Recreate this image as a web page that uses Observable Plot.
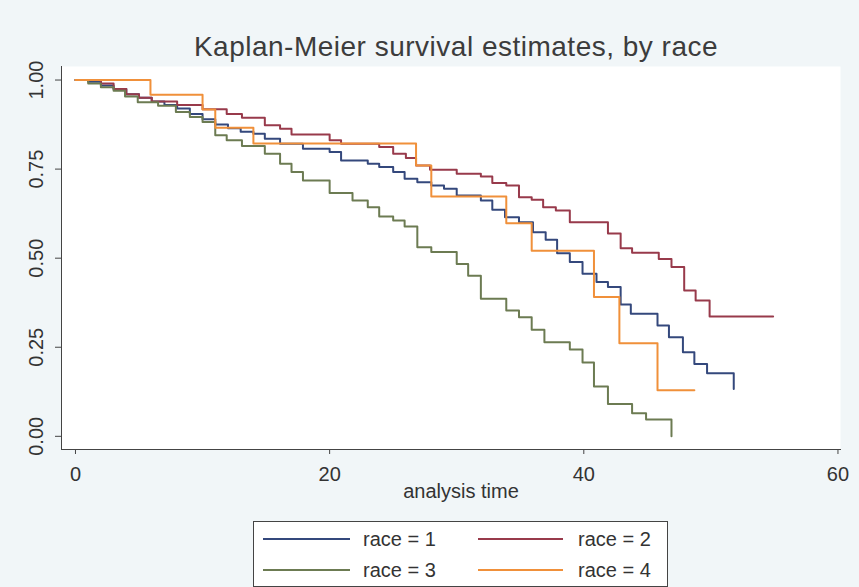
<!DOCTYPE html>
<html>
<head>
<meta charset="utf-8">
<script src="https://cdn.jsdelivr.net/npm/d3@7"></script>
<script src="https://cdn.jsdelivr.net/npm/@observablehq/plot@0.6"></script>
<style>
  html, body { margin: 0; padding: 0; }
  body { width: 859px; height: 587px; background: #f1f6f8; position: relative; overflow: hidden;
         font-family: "Liberation Sans", Arial, sans-serif; }
  #title { position: absolute; left: 456px; top: 33px; transform: translateX(-50%); white-space: nowrap;
           font-size: 28px; line-height: 28px; letter-spacing: 0.5px; color: #3c3c3c; z-index: 2; }
  #chart { position: absolute; left: 0; top: 36px; z-index: 1; }
  #chart svg { overflow: visible; }
  #legend { position: absolute; left: 253px; top: 521px; width: 415px; height: 66px; box-sizing: border-box;
            border: 1px solid #444; background: #ffffff; }
  .sw { position: absolute; height: 0; border-top: 2px solid; }
  .lb { position: absolute; font-size: 20px; line-height: 20px; color: #333; white-space: nowrap; }
</style>
</head>
<body>
<div id="title">Kaplan-Meier survival estimates, by race</div>
<div id="chart"></div>
<div id="legend"></div>
<script>
// ---- data ----
const races = ["1", "2", "3", "4"];
const raceLabels = ["race = 1", "race = 2", "race = 3", "race = 4"];

const time1 = [0,1,2,3,4,5,6,7,8,9,10,11,12,13,14,14.9,16.1,17.9,20.0,20.9,23.0,23.9,25.0,25.9,26.9,28.0,29.0,30.0,31.9,32.8,33.8,34.9,36.0,37.0,37.9,38.9,39.9,41.0,41.9,42.9,43.7,45.8,46.7,47.8,48.7,49.7,51.8];
const surv1 = [1,0.995,0.985,0.975,0.96,0.95,0.94,0.93,0.92,0.905,0.89,0.875,0.865,0.855,0.849,0.835,0.821,0.807,0.798,0.774,0.765,0.756,0.742,0.723,0.713,0.704,0.695,0.676,0.662,0.636,0.615,0.601,0.573,0.552,0.514,0.489,0.456,0.433,0.419,0.370,0.344,0.311,0.278,0.236,0.203,0.177,0.133];

const time2 = [0,2.0,3.0,4.0,5.0,6.0,8.0,10.0,11.9,13.1,14.9,16.1,17.0,20.0,20.9,23.9,25.0,26.0,26.8,27.9,30.0,31.9,32.8,33.9,34.9,35.9,36.8,37.8,38.9,41.9,42.9,43.8,45.9,46.9,47.9,48.8,49.9,54.9];
const surv2 = [1,0.99,0.975,0.96,0.95,0.94,0.93,0.918,0.905,0.894,0.873,0.863,0.847,0.831,0.821,0.812,0.793,0.781,0.760,0.748,0.737,0.729,0.711,0.704,0.671,0.664,0.643,0.634,0.601,0.569,0.528,0.515,0.498,0.475,0.409,0.381,0.336,0.336];

const time3 = [0,1,2,3,3.9,4.9,6.5,7.9,9.0,10.0,11.0,11.9,13.1,14.9,16.1,17.0,17.9,20.0,21.8,23.0,23.9,25.0,25.9,26.9,28.0,30.0,30.9,31.9,33.9,34.9,35.9,36.9,38.9,39.9,40.8,41.9,43.8,44.9,46.9];
const surv3 = [1,0.99,0.98,0.97,0.954,0.938,0.928,0.91,0.896,0.882,0.845,0.831,0.815,0.793,0.765,0.742,0.718,0.683,0.662,0.643,0.617,0.606,0.589,0.531,0.517,0.484,0.451,0.386,0.353,0.334,0.299,0.264,0.244,0.207,0.140,0.091,0.065,0.047,0.0];

const time4 = [0,5.9,10.0,11.0,14.0,26.8,28.0,33.9,35.9,40.8,42.8,45.8,48.7];
const surv4 = [1,0.959,0.917,0.866,0.822,0.760,0.673,0.598,0.521,0.391,0.261,0.129,0.129];

const xTicks = [0, 20, 40, 60];
const yTicks = [0, 0.25, 0.5, 0.75, 1];
const xTitle = "analysis time";

// ---- styles ----
const colors = ["#34487c", "#983a4b", "#6c7b52", "#f0903a"];

// ---- build table ----
const series = [[time1, surv1], [time2, surv2], [time3, surv3], [time4, surv4]];
const rows = [];
series.forEach(([ts, ss], i) => ts.forEach((t, j) => rows.push({race: races[i], t, s: ss[j]})));

const chart = Plot.plot({
  width: 859,
  height: 485,
  marginLeft: 61,
  marginRight: 19,
  marginTop: 30,
  marginBottom: 72,
  x: {domain: [-1.1, 60.2]},
  y: {domain: [-0.037, 1.038]},
  color: {domain: races, range: colors},
  style: {background: "transparent", fontFamily: "'Liberation Sans', Arial, sans-serif", fontSize: "20px", color: "#333", overflow: "visible"},
  marks: [
    Plot.frame({fill: "white", stroke: "none"}),
    Plot.line(rows, {x: "t", y: "s", z: "race", stroke: "race", curve: "step-after", strokeWidth: 2}),
    Plot.axisX({ticks: xTicks, tickSize: 5, tickPadding: 12, tickFormat: d => String(d), fontSize: 20, label: null, stroke: "#444", fill: "#333"}),
    Plot.axisY({ticks: yTicks, tickSize: 6, tickFormat: () => "", label: null, stroke: "#444"}),
    Plot.text(yTicks, {y: d => d, frameAnchor: "left", dx: -25, rotate: -90, textAnchor: "middle", lineAnchor: "middle", text: d => d.toFixed(2), fontSize: 20, fill: "#333"}),
    Plot.frame({anchor: "left", stroke: "#444"}),
    Plot.frame({anchor: "bottom", stroke: "#444"}),
    Plot.text([xTitle], {frameAnchor: "bottom", dy: 48, dx: 10, fontSize: 20, fill: "#333"})
  ]
});
document.getElementById("chart").appendChild(chart);

// ---- legend ----
const legend = document.getElementById("legend");
const cols = [{line: 9, lw: 87, text: 109}, {line: 224, lw: 85, text: 324}];
const rowsY = [17, 48];
races.forEach((r, i) => {
  const c = cols[i % 2], y = rowsY[Math.floor(i / 2)];
  const sw = document.createElement("div");
  sw.className = "sw";
  sw.style.left = c.line + "px"; sw.style.width = c.lw + "px"; sw.style.top = (y - 1) + "px";
  sw.style.borderTopColor = colors[i];
  legend.appendChild(sw);
  const lb = document.createElement("div");
  lb.className = "lb";
  lb.style.left = c.text + "px"; lb.style.top = (y - 10) + "px";
  lb.textContent = raceLabels[i];
  legend.appendChild(lb);
});
</script>
</body>
</html>
